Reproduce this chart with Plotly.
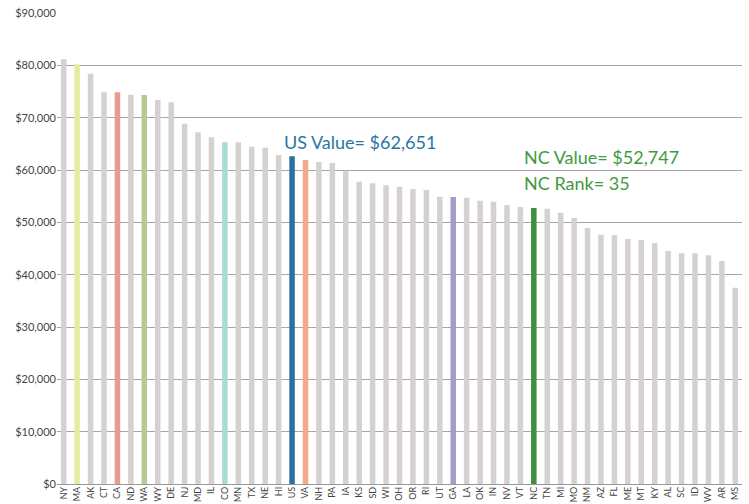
import plotly.graph_objects as go

states = ["NY","MA","AK","CT","CA","ND","WA","WY","DE","NJ","MD","IL","CO","MN","TX","NE","HI","US","VA","NH",
          "PA","IA","KS","SD","WI","OH","OR","RI","UT","GA","LA","OK","IN","NV","VT","NC","TN","MI","MO","NM",
          "AZ","FL","ME","MT","KY","AL","SC","ID","WV","AR","MS"]
values = [81150, 80200, 78400, 74850, 74850, 74400, 74340, 73380, 72940, 68850, 67220, 66280, 65300, 65300, 64460,
          64270, 62870, 62651, 61920, 61530, 61340, 59750, 57770, 57460, 57080, 56810, 56370, 56180, 54900, 54840,
          54710, 54140, 53950, 53320, 52930, 52747, 52610, 51850, 50830, 48920, 47640, 47580, 46820, 46630, 46000,
          44530, 44090, 44090, 43700, 42610, 37510]

y_tick_vals = [0, 10000, 20000, 30000, 40000, 50000, 60000, 70000, 80000, 90000]
y_tick_text = ["$0", "$10,000", "$20,000", "$30,000", "$40,000", "$50,000", "$60,000", "$70,000", "$80,000", "$90,000"]

highlight_colors = {"MA": "#e4eca0", "CA": "#e99a8c", "WA": "#b4cc93", "CO": "#a9dcd4",
                    "US": "#28729f", "VA": "#f5ab8a", "GA": "#a79cc8", "NC": "#3f8f3f"}
base_color = "#d5d1d0"
colors = [highlight_colors.get(s, base_color) for s in states]

us_label = "US Value= $62,651"
nc_label1 = "NC Value= $52,747"
nc_label2 = "NC Rank= 35"

fig = go.Figure(go.Bar(x=states, y=values, marker=dict(color=colors, line=dict(width=0)),
                       hoverinfo="x+y"))

FONT = "Lato"
fig.update_layout(
    width=749, height=504,
    margin=dict(l=57, r=7, t=13, b=20),
    plot_bgcolor="white", paper_bgcolor="white",
    bargap=0.59,
    showlegend=False,
    font=dict(family=FONT, color="#444"),
    xaxis=dict(type="category", tickangle=-90, tickfont=dict(size=9, color="#444"),
               showgrid=False, showline=False, ticks="", automargin=False, fixedrange=True),
    yaxis=dict(range=[0, 90000], tickvals=y_tick_vals, ticktext=y_tick_text,
               tickfont=dict(size=11, color="#444"),
               showgrid=True, gridcolor="#a6a6a6", gridwidth=1, zeroline=True, zerolinecolor="#999999",
               zerolinewidth=1, ticks="", automargin=False, fixedrange=True),
    annotations=[
        dict(x="US", y=65350, xref="x", yref="y", text=us_label, showarrow=False, xanchor="left",
             yanchor="middle", xshift=-10, font=dict(family=FONT, size=18, color="#2a75a3")),
        dict(x="NC", y=62550, xref="x", yref="y", text=nc_label1, showarrow=False, xanchor="left",
             yanchor="middle", xshift=-12, font=dict(family=FONT, size=18, color="#3f9a3f")),
        dict(x="NC", y=57460, xref="x", yref="y", text=nc_label2, showarrow=False, xanchor="left",
             yanchor="middle", xshift=-12, font=dict(family=FONT, size=18, color="#3f9a3f")),
    ],
)

fig.write_html("out.html", config={"displayModeBar": False},
               post_script="document.body.style.margin='0';document.body.style.padding='0';")
